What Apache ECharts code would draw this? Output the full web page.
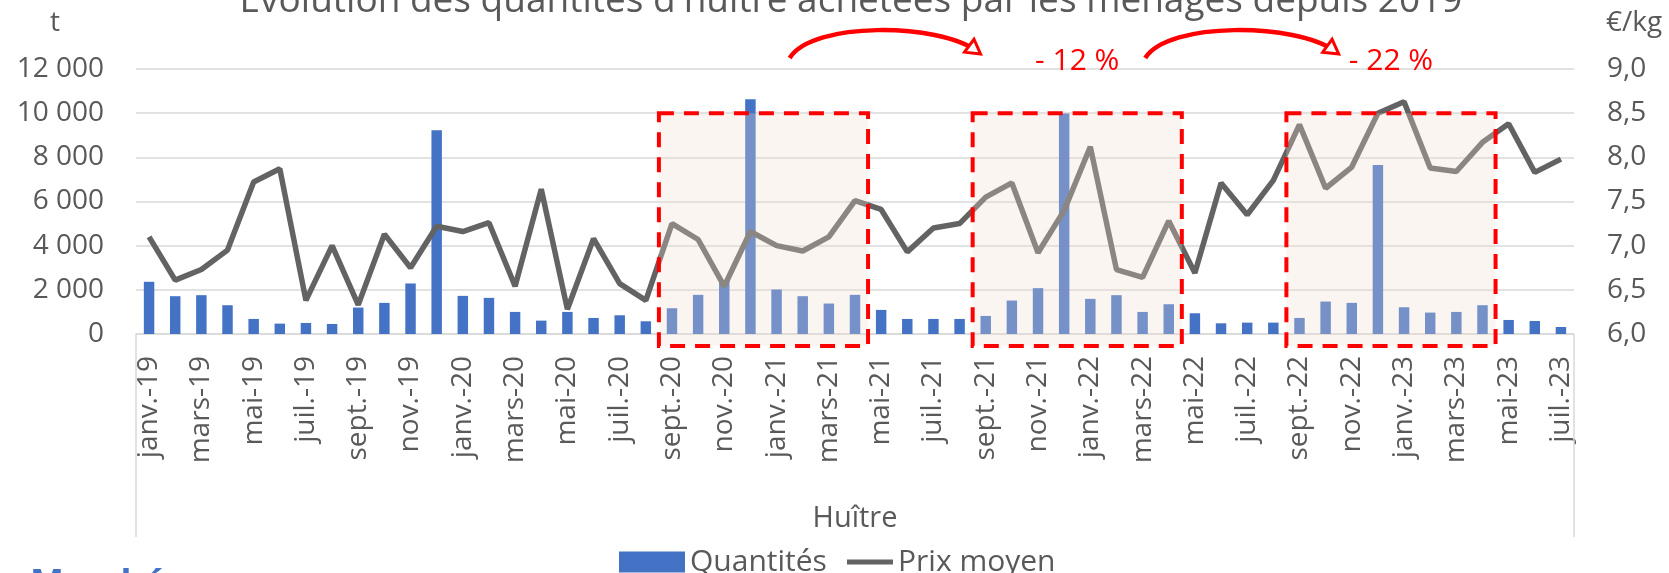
<!DOCTYPE html>
<html><head><meta charset="utf-8">
<script src="https://cdn.jsdelivr.net/npm/echarts@6/dist/echarts.min.js"></script>
<style>html,body{margin:0;padding:0;background:#fff}#c{width:1669px;height:573px}</style>
</head><body><div id="c"></div>
<script>
const categories = ['janv.-19','févr.-19','mars-19','avr.-19','mai-19','juin-19','juil.-19','août-19','sept.-19','oct.-19','nov.-19','déc.-19',
  'janv.-20','févr.-20','mars-20','avr.-20','mai-20','juin-20','juil.-20','août-20','sept.-20','oct.-20','nov.-20','déc.-20',
  'janv.-21','févr.-21','mars-21','avr.-21','mai-21','juin-21','juil.-21','août-21','sept.-21','oct.-21','nov.-21','déc.-21',
  'janv.-22','févr.-22','mars-22','avr.-22','mai-22','juin-22','juil.-22','août-22','sept.-22','oct.-22','nov.-22','déc.-22',
  'janv.-23','févr.-23','mars-23','avr.-23','mai-23','juin-23','juil.-23'];
const quantites = [2364,1712,1758,1303,682,470,500,455,1197,1409,2288,9230,
  1727,1636,1000,606,1000,727,848,576,1167,1773,2400,10630,
  2015,1712,1379,1773,1091,682,682,682,818,1515,2076,9980,
  1591,1758,1000,1348,939,485,515,515,727,1470,1409,7650,
  1212,970,1000,1303,636,591,318];
const prixMoyen = [7.10,6.61,6.73,6.95,7.72,7.87,6.38,7.00,6.33,7.13,6.75,7.22,
  7.16,7.26,6.54,7.64,6.28,7.08,6.57,6.38,7.25,7.07,6.54,7.16,
  7.00,6.94,7.10,7.51,7.41,6.93,7.20,7.25,7.55,7.71,6.92,7.40,
  8.12,6.73,6.64,7.28,6.69,7.71,7.35,7.74,8.37,7.65,7.89,8.50,
  8.63,7.88,7.84,8.17,8.38,7.83,7.98];
const seriesNames = ['Quantités', 'Prix moyen'];
const boxStarts = [20, 32, 44];
const boxEnds = [28, 40, 52];
const boxTopValue = 10000;
const evolutions = ['- 12 %', '- 22 %'];
const titleText = "Évolution des quantités d'huître achetées par les ménages depuis 2019";
const groupLabel = 'Huître';

const FONT = '"Open Sans", "DejaVu Sans", sans-serif';
const GREY = '#595959';
const chart = echarts.init(document.getElementById('c'));
const fmtThousands = v => String(v).replace(/\B(?=(\d{3})+(?!\d))/g, ' ');

chart.setOption({
  animation: false,
  textStyle: { fontFamily: FONT },
  grid: { left: 136, right: 95, top: 69, bottom: 239 },
  xAxis: [
    { type: 'category', data: categories,
      axisTick: { show: false },
      axisLine: { lineStyle: { color: '#D9D9D9', width: 1.5 } },
      axisLabel: { interval: 1, rotate: 90, fontSize: 28, color: GREY, margin: 22, fontFamily: FONT } },
    { type: 'value', min: 0, max: 55, show: false }
  ],
  yAxis: [
    { type: 'value', min: 0, max: 12000, interval: 2000,
      axisLine: { show: false }, axisTick: { show: false },
      splitLine: { lineStyle: { color: '#D9D9D9', width: 1.5 } },
      axisLabel: { fontSize: 28, color: GREY, margin: 32, fontFamily: FONT, formatter: fmtThousands } },
    { type: 'value', min: 6, max: 9, interval: 0.5, position: 'right',
      axisLine: { show: false }, axisTick: { show: false }, splitLine: { show: false },
      axisLabel: { fontSize: 28, color: GREY, margin: 33, fontFamily: FONT,
        formatter: v => v.toFixed(1).replace('.', ',') } }
  ],
  legend: [
    { left: 614, top: 542, itemWidth: 66, itemHeight: 21, itemGap: 18, icon: 'rect',
      textStyle: { fontSize: 30, color: GREY, fontFamily: FONT }, data: [seriesNames[0]] },
    { left: 842, top: 542, itemWidth: 46, itemHeight: 5, icon: 'rect',
      textStyle: { fontSize: 30, color: GREY, fontFamily: FONT }, data: [seriesNames[1]] }
  ],
  series: [
    { name: seriesNames[0], type: 'bar', data: quantites, barWidth: '40%',
      itemStyle: { color: '#4472C4' } },
    { name: seriesNames[1], type: 'line', yAxisIndex: 1, data: prixMoyen, symbol: 'none',
      lineStyle: { color: '#636363', width: 5.5 }, itemStyle: { color: '#636363' }, z: 3 }
  ]
});

const X = v => chart.convertToPixel({ xAxisIndex: 1 }, v);
const Y = v => chart.convertToPixel({ yAxisIndex: 0 }, v);
const plotL = X(0), plotR = X(55), y0 = Y(0), yTop = Y(12000);

const graphics = [];
graphics.push({ type: 'text', z: 50, style: { text: titleText, x: 851, y: 1, align: 'center', verticalAlign: 'middle',
  font: '37px ' + FONT, fill: GREY } });
graphics.push({ type: 'text', z: 50, style: { text: 't', x: 55, y: 23, align: 'center', verticalAlign: 'middle',
  font: '28px ' + FONT, fill: GREY } });
graphics.push({ type: 'text', z: 50, style: { text: '€/kg', x: 1606, y: 23, align: 'left', verticalAlign: 'middle',
  font: '28px ' + FONT, fill: GREY } });
graphics.push({ type: 'line', z: 50, shape: { x1: plotL, y1: y0, x2: plotL, y2: 537 }, style: { stroke: '#D9D9D9', lineWidth: 1.5 } });
graphics.push({ type: 'line', z: 50, shape: { x1: plotR, y1: y0, x2: plotR, y2: 537 }, style: { stroke: '#D9D9D9', lineWidth: 1.5 } });
graphics.push({ type: 'text', z: 50, style: { text: groupLabel, x: (plotL + plotR) / 2, y: 519, align: 'center', verticalAlign: 'middle',
  font: '29px ' + FONT, fill: GREY } });
graphics.push({ type: 'text', z: 50, style: { text: 'Marché', x: 30, y: 567, align: 'left', verticalAlign: 'top',
  font: 'bold 36px ' + FONT, fill: '#4472C4' } });

for (let i = 0; i < boxStarts.length; i++) {
  const xa = X(boxStarts[i]), xb = X(boxEnds[i]);
  const ya = Y(boxTopValue), yb = y0 + 12;
  graphics.push({ type: 'rect', z: 100, shape: { x: xa, y: ya, width: xb - xa, height: yb - ya },
    style: { fill: 'rgba(238,220,207,0.29)', stroke: '#FF0000', lineWidth: 4, lineDash: [15, 10] } });
}
for (let i = 0; i < evolutions.length; i++) {
  const cx = (X(boxStarts[i + 1]) + X(boxEnds[i + 1])) / 2;
  graphics.push({ type: 'text', z: 100, style: { text: evolutions[i], x: cx, y: yTop - 8, align: 'center', verticalAlign: 'middle',
    font: '30px ' + FONT, fill: '#FF0000' } });
}
const arrowFrom = [25.0, 38.6], arrowTo = [32.3, 46.0];
for (let i = 0; i < arrowFrom.length; i++) {
  const sx = X(arrowFrom[i]), ex = X(arrowTo[i]);
  const sy = yTop - 11, ey = yTop - 15, w = ex - sx;
  const c1x = sx + 0.12 * w, c1y = yTop - 48, c2x = sx + 0.78 * w, c2y = yTop - 46;
  graphics.push({ type: 'bezierCurve', z: 100, shape: { x1: sx, y1: sy, x2: ex - 4, y2: ey - 3, cpx1: c1x, cpy1: c1y, cpx2: c2x, cpy2: c2y },
    style: { stroke: '#FF0000', lineWidth: 4.5, fill: null } });
  const ang = Math.atan2(ey - c2y, ex - c2x);
  const L = 14, Wd = 8;
  const bx = ex - L * Math.cos(ang), by = ey - L * Math.sin(ang);
  const nx = -Math.sin(ang), ny = Math.cos(ang);
  graphics.push({ type: 'polygon', z: 100, shape: { points: [[ex, ey], [bx + nx * Wd, by + ny * Wd], [bx - nx * Wd, by - ny * Wd]] },
    style: { fill: '#FFFFFF', stroke: '#FF0000', lineWidth: 3 } });
}
chart.setOption({ graphic: graphics });
</script></body></html>
